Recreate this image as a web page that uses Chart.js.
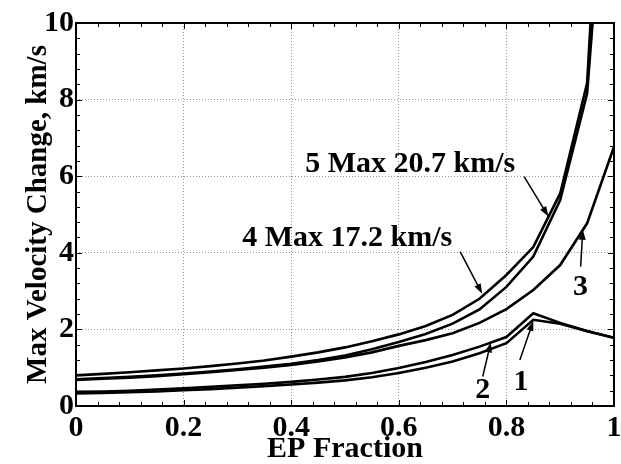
<!DOCTYPE html>
<html>
<head>
<meta charset="utf-8">
<script src="https://cdn.jsdelivr.net/npm/chart.js@4.4.1/dist/chart.umd.min.js"></script>
<style>
  html, body { margin: 0; padding: 0; background: #fff; }
  #wrap { width: 621px; height: 464px; }
</style>
</head>
<body>
<div id="wrap"><canvas id="chart" width="621" height="464"></canvas></div>
<script>
// EP fraction samples (x)
const epFraction = [0, 0.05, 0.1, 0.15, 0.2, 0.25, 0.3, 0.35, 0.4, 0.45, 0.5,
                    0.55, 0.6, 0.65, 0.7, 0.75, 0.8, 0.85, 0.9, 0.95, 1.0];

// max velocity change, km/s
const curve1 = [0.33, 0.34, 0.36, 0.38, 0.41, 0.44, 0.48, 0.52, 0.56, 0.61, 0.67,
                0.75, 0.86, 1.00, 1.16, 1.38, 1.64, 2.25, 2.15, 1.95, 1.78];
const curve2 = [0.37, 0.38, 0.40, 0.43, 0.46, 0.50, 0.54, 0.58, 0.63, 0.69, 0.76,
                0.86, 0.99, 1.15, 1.33, 1.55, 1.80, 2.42, 2.17, 1.96, 1.78];
const curve3 = [0.68, 0.71, 0.74, 0.78, 0.83, 0.88, 0.94, 1.00, 1.07, 1.16, 1.27,
                1.40, 1.57, 1.72, 1.90, 2.17, 2.53, 3.03, 3.68, 4.77, 6.77];
const curve4 = [0.70, 0.73, 0.76, 0.80, 0.85, 0.90, 0.96, 1.03, 1.10, 1.20, 1.32,
                1.48, 1.67, 1.88, 2.15, 2.52, 3.11, 3.90, 5.38, 8.16, 17.2];
const curve5 = [0.80, 0.84, 0.88, 0.93, 0.98, 1.04, 1.11, 1.19, 1.29, 1.40, 1.53,
                1.69, 1.87, 2.09, 2.38, 2.80, 3.42, 4.15, 5.55, 8.43, 20.7];

const xTicks = [0, 0.2, 0.4, 0.6, 0.8, 1];
const yTicks = [0, 2, 4, 6, 8, 10];

const FONT = 'Liberation Serif';

// curve labels with arrows, in data units
const callouts = [
  { text: '5 Max 20.7 km/s', at: [0.426, 6.11], from: [0.833, 5.99], to: [0.878, 4.95] },
  { text: '4 Max 17.2 km/s', at: [0.309, 4.18], from: [0.714, 4.03], to: [0.755, 2.93] },
  { text: '3', at: [0.924, 2.90], from: [0.938, 3.64], to: [0.942, 4.60] },
  { text: '2', at: [0.742, 0.21], from: [0.756, 0.77], to: [0.771, 1.66] },
  { text: '1', at: [0.813, 0.42], from: [0.825, 1.20], to: [0.850, 2.22] }
];

const toPoints = ys => ys.map((v, i) => ({ x: epFraction[i], y: v }));

const lineSet = (label, ys) => ({
  label: label,
  data: toPoints(ys),
  borderColor: '#000',
  borderWidth: 2.6,
  pointRadius: 0,
  tension: 0,
  fill: false
});

const frameTicks = {
  id: 'frameTicks',
  afterDatasetsDraw(chart) {
    const { ctx, chartArea: a, scales: { x, y } } = chart;
    ctx.save();
    ctx.strokeStyle = '#000';
    ctx.lineWidth = 1;
    ctx.beginPath();
    for (let i = 0; i <= 25; i++) {
      const px = Math.round(x.getPixelForValue(i * 0.04)) + 0.5;
      const len = i % 5 === 0 ? 6 : 4;
      ctx.moveTo(px, a.bottom); ctx.lineTo(px, a.bottom - len);
      ctx.moveTo(px, a.top); ctx.lineTo(px, a.top + len);
    }
    for (let i = 0; i <= 25; i++) {
      const py = Math.round(y.getPixelForValue(i * 0.4)) + 0.5;
      const len = i % 5 === 0 ? 6 : 4;
      ctx.moveTo(a.left, py); ctx.lineTo(a.left + len, py);
      ctx.moveTo(a.right, py); ctx.lineTo(a.right - len, py);
    }
    ctx.stroke();
    ctx.lineWidth = 2;
    ctx.strokeRect(a.left, a.top, a.right - a.left, a.bottom - a.top);
    ctx.restore();
  }
};

const calloutPlugin = {
  id: 'callouts',
  afterDraw(chart) {
    const { ctx, scales: { x, y } } = chart;
    ctx.save();
    ctx.fillStyle = '#000';
    ctx.strokeStyle = '#000';
    ctx.font = 'bold 30px "' + FONT + '"';
    ctx.textAlign = 'left';
    ctx.textBaseline = 'alphabetic';
    callouts.forEach(c => {
      ctx.fillText(c.text, x.getPixelForValue(c.at[0]), y.getPixelForValue(c.at[1]));
      const x0 = x.getPixelForValue(c.from[0]), y0 = y.getPixelForValue(c.from[1]);
      const x1 = x.getPixelForValue(c.to[0]), y1 = y.getPixelForValue(c.to[1]);
      const ang = Math.atan2(y1 - y0, x1 - x0);
      const hl = 10, hw = 3.5;
      ctx.lineWidth = 1.5;
      ctx.beginPath();
      ctx.moveTo(x0, y0);
      ctx.lineTo(x1 - Math.cos(ang) * hl * 0.8, y1 - Math.sin(ang) * hl * 0.8);
      ctx.stroke();
      ctx.beginPath();
      ctx.moveTo(x1, y1);
      ctx.lineTo(x1 - Math.cos(ang) * hl - Math.sin(ang) * hw, y1 - Math.sin(ang) * hl + Math.cos(ang) * hw);
      ctx.lineTo(x1 - Math.cos(ang) * hl + Math.sin(ang) * hw, y1 - Math.sin(ang) * hl - Math.cos(ang) * hw);
      ctx.closePath();
      ctx.fill();
    });
    ctx.restore();
  }
};

const tickFont = { family: FONT, weight: 'bold', size: 30 };

new Chart(document.getElementById('chart').getContext('2d'), {
  type: 'line',
  data: {
    datasets: [
      lineSet('1', curve1),
      lineSet('2', curve2),
      lineSet('3', curve3),
      lineSet('4', curve4),
      lineSet('5', curve5)
    ]
  },
  options: {
    responsive: false,
    animation: false,
    devicePixelRatio: 1,
    layout: { padding: { top: 23, right: 7, left: 0, bottom: 0 } },
    plugins: { legend: { display: false }, tooltip: { enabled: false } },
    scales: {
      x: {
        type: 'linear',
        min: 0,
        max: 1,
        afterBuildTicks: s => { s.ticks = xTicks.map(v => ({ value: v })); },
        afterFit: s => { s.height = 58; s.paddingLeft = 0; s.paddingRight = 0; },
        ticks: { font: tickFont, color: '#000', padding: 4, maxRotation: 0,
                 callback: v => String(+v.toFixed(2)) },
        grid: { color: '#999', lineWidth: 1, drawTicks: false },
        border: { display: false, dash: [1, 2] },
        title: { display: true, text: 'EP Fraction', color: '#000', font: tickFont, padding: { top: 0, bottom: -3 } }
      },
      y: {
        min: 0,
        max: 10,
        afterBuildTicks: s => { s.ticks = yTicks.map(v => ({ value: v })); },
        afterFit: s => { s.width = 76; s.paddingTop = 0; s.paddingBottom = 0; },
        ticks: { font: tickFont, color: '#000', padding: 2 },
        grid: { color: '#999', lineWidth: 1, drawTicks: false },
        border: { display: false, dash: [1, 2] },
        title: { display: true, text: 'Max Velocity Change, km/s', color: '#000',
                 font: { family: FONT, weight: 'bold', size: 29 }, padding: { top: 21, bottom: 0 } }
      }
    }
  },
  plugins: [frameTicks, calloutPlugin]
});
</script>
</body>
</html>
